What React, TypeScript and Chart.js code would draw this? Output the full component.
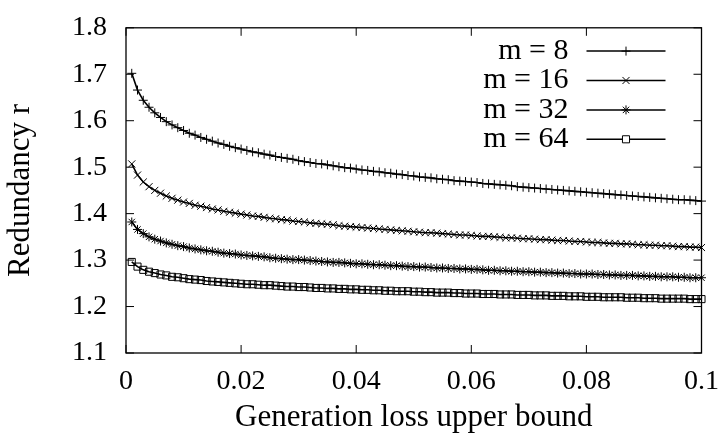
import React, { useEffect, useRef } from "react";
import { Chart, registerables } from "chart.js";
import { drawPoint } from "chart.js/helpers";

Chart.register(...registerables);

const xValues = [
  0.001, 0.002, 0.003, 0.004, 0.005, 0.006, 0.007, 0.008, 0.009, 0.01,
  0.011, 0.012, 0.013, 0.014, 0.015, 0.016, 0.017, 0.018, 0.019, 0.02,
  0.021, 0.022, 0.023, 0.024, 0.025, 0.026, 0.027, 0.028, 0.029, 0.03,
  0.031, 0.032, 0.033, 0.034, 0.035, 0.036, 0.037, 0.038, 0.039, 0.04,
  0.041, 0.042, 0.043, 0.044, 0.045, 0.046, 0.047, 0.048, 0.049, 0.05,
  0.051, 0.052, 0.053, 0.054, 0.055, 0.056, 0.057, 0.058, 0.059, 0.06,
  0.061, 0.062, 0.063, 0.064, 0.065, 0.066, 0.067, 0.068, 0.069, 0.07,
  0.071, 0.072, 0.073, 0.074, 0.075, 0.076, 0.077, 0.078, 0.079, 0.08,
  0.081, 0.082, 0.083, 0.084, 0.085, 0.086, 0.087, 0.088, 0.089, 0.09,
  0.091, 0.092, 0.093, 0.094, 0.095, 0.096, 0.097, 0.098, 0.099, 0.1,
];

const m8 = [
  1.702, 1.666, 1.644, 1.629, 1.617, 1.607, 1.598, 1.591, 1.585, 1.579,
  1.573, 1.569, 1.564, 1.56, 1.556, 1.552, 1.549, 1.545, 1.542, 1.539,
  1.536, 1.533, 1.531, 1.528, 1.526, 1.523, 1.521, 1.519, 1.517, 1.514,
  1.512, 1.51, 1.508, 1.507, 1.505, 1.503, 1.501, 1.499, 1.498, 1.496,
  1.494, 1.493, 1.491, 1.49, 1.488, 1.487, 1.485, 1.484, 1.482, 1.481,
  1.479, 1.478, 1.477, 1.475, 1.474, 1.473, 1.471, 1.47, 1.469, 1.468,
  1.467, 1.465, 1.464, 1.463, 1.462, 1.461, 1.46, 1.458, 1.457, 1.456,
  1.455, 1.454, 1.453, 1.452, 1.451, 1.45, 1.449, 1.448, 1.447, 1.446,
  1.445, 1.444, 1.443, 1.442, 1.441, 1.44, 1.439, 1.438, 1.437, 1.436,
  1.435, 1.434, 1.433, 1.432, 1.431, 1.43, 1.43, 1.429, 1.428, 1.427,
];

const m16 = [
  1.507, 1.483, 1.468, 1.458, 1.45, 1.444, 1.438, 1.433, 1.429, 1.425,
  1.422, 1.418, 1.416, 1.413, 1.41, 1.408, 1.405, 1.403, 1.401, 1.399,
  1.397, 1.395, 1.394, 1.392, 1.39, 1.389, 1.387, 1.386, 1.384, 1.383,
  1.382, 1.38, 1.379, 1.378, 1.377, 1.376, 1.374, 1.373, 1.372, 1.371,
  1.37, 1.369, 1.368, 1.367, 1.366, 1.365, 1.364, 1.363, 1.362, 1.361,
  1.36, 1.359, 1.359, 1.358, 1.357, 1.356, 1.355, 1.354, 1.354, 1.353,
  1.352, 1.351, 1.351, 1.35, 1.349, 1.348, 1.348, 1.347, 1.346, 1.346,
  1.345, 1.344, 1.344, 1.343, 1.342, 1.342, 1.341, 1.34, 1.34, 1.339,
  1.338, 1.338, 1.337, 1.336, 1.336, 1.335, 1.335, 1.334, 1.333, 1.333,
  1.332, 1.332, 1.331, 1.331, 1.33, 1.329, 1.329, 1.328, 1.328, 1.327,
];

const m32 = [
  1.382, 1.366, 1.357, 1.35, 1.345, 1.341, 1.337, 1.334, 1.331, 1.329,
  1.326, 1.324, 1.322, 1.32, 1.319, 1.317, 1.315, 1.314, 1.313, 1.311,
  1.31, 1.309, 1.308, 1.307, 1.305, 1.304, 1.303, 1.302, 1.301, 1.301,
  1.3, 1.299, 1.298, 1.297, 1.296, 1.295, 1.295, 1.294, 1.293, 1.292,
  1.292, 1.291, 1.29, 1.29, 1.289, 1.288, 1.288, 1.287, 1.286, 1.286,
  1.285, 1.285, 1.284, 1.283, 1.283, 1.282, 1.282, 1.281, 1.281, 1.28,
  1.28, 1.279, 1.278, 1.278, 1.277, 1.277, 1.276, 1.276, 1.275, 1.275,
  1.274, 1.274, 1.273, 1.273, 1.272, 1.272, 1.271, 1.271, 1.27, 1.27,
  1.27, 1.269, 1.269, 1.268, 1.268, 1.267, 1.267, 1.267, 1.266, 1.266,
  1.265, 1.265, 1.264, 1.264, 1.264, 1.263, 1.263, 1.262, 1.262, 1.262,
];

const m64 = [
  1.296, 1.286, 1.279, 1.275, 1.272, 1.269, 1.267, 1.264, 1.263, 1.261,
  1.259, 1.258, 1.257, 1.255, 1.254, 1.253, 1.252, 1.251, 1.25, 1.249,
  1.248, 1.248, 1.247, 1.246, 1.246, 1.245, 1.244, 1.243, 1.243, 1.242,
  1.242, 1.241, 1.24, 1.24, 1.239, 1.239, 1.238, 1.238, 1.237, 1.237,
  1.236, 1.236, 1.235, 1.235, 1.234, 1.234, 1.233, 1.233, 1.233, 1.232,
  1.232, 1.231, 1.231, 1.23, 1.23, 1.23, 1.229, 1.229, 1.228, 1.228,
  1.228, 1.227, 1.227, 1.227, 1.226, 1.226, 1.226, 1.225, 1.225, 1.225,
  1.224, 1.224, 1.224, 1.223, 1.223, 1.223, 1.222, 1.222, 1.222, 1.221,
  1.221, 1.221, 1.22, 1.22, 1.22, 1.22, 1.219, 1.219, 1.219, 1.218,
  1.218, 1.218, 1.217, 1.217, 1.217, 1.217, 1.217, 1.216, 1.216, 1.216,
];

const seriesLabels = ["m = 8", "m = 16", "m = 32", "m = 64"];
const seriesValues = [m8, m16, m32, m64];
const seriesMarkers = ["cross", "crossRot", "star", "rect"];
const seriesMarkerRadius = [4.5, 5, 4.5, 5];

const xTickValues = [0, 0.02, 0.04, 0.06, 0.08, 0.1];
const xTickLabels = ["0", "0.02", "0.04", "0.06", "0.08", "0.1"];
const yTickValues = [1.1, 1.2, 1.3, 1.4, 1.5, 1.6, 1.7, 1.8];
const yTickLabels = ["1.1", "1.2", "1.3", "1.4", "1.5", "1.6", "1.7", "1.8"];

const xTitle = "Generation loss upper bound";
const yTitle = "Redundancy r";

const FONT_FAMILY = "'Liberation Serif', 'Times New Roman', serif";

const frameTicksPlugin = {
  id: "frameTicks",
  beforeDatasetsDraw(chart: any) {
    const { ctx, chartArea, scales } = chart;
    const { left, right, top, bottom } = chartArea;
    const tl = 8;
    ctx.save();
    ctx.strokeStyle = "#000";
    ctx.lineWidth = 1.3;
    ctx.strokeRect(left, top, right - left, bottom - top);
    ctx.lineWidth = 1;
    ctx.beginPath();
    xTickValues.forEach((v) => {
      const px = scales.x.getPixelForValue(v);
      ctx.moveTo(px, bottom);
      ctx.lineTo(px, bottom - tl);
      ctx.moveTo(px, top);
      ctx.lineTo(px, top + tl);
    });
    yTickValues.forEach((v) => {
      const py = scales.y.getPixelForValue(v);
      ctx.moveTo(left, py);
      ctx.lineTo(left + tl, py);
      ctx.moveTo(right, py);
      ctx.lineTo(right - tl, py);
    });
    ctx.stroke();
    ctx.restore();
  },
};

const gnuplotLegendPlugin = {
  id: "gnuplotLegend",
  afterDraw(chart: any) {
    const { ctx, chartArea } = chart;
    const textRight = chartArea.right - 133;
    const lineStart = chartArea.right - 115;
    const lineEnd = chartArea.right - 36;
    const firstRow = chartArea.top + 23.3;
    const rowGap = 29.4;
    ctx.save();
    ctx.font = `30px ${FONT_FAMILY}`;
    ctx.textAlign = "right";
    ctx.textBaseline = "middle";
    chart.data.datasets.forEach((ds: any, i: number) => {
      const y = firstRow + i * rowGap;
      ctx.fillStyle = "#000";
      ctx.fillText(ds.label, textRight, y);
      ctx.strokeStyle = "#000";
      ctx.lineWidth = 1.5;
      ctx.beginPath();
      ctx.moveTo(lineStart, y);
      ctx.lineTo(lineEnd, y);
      ctx.stroke();
      ctx.lineWidth = 1;
      ctx.fillStyle = "#fff";
      drawPoint(
        ctx,
        {
          pointStyle: ds.pointStyle,
          radius: ds.pointRadius,
          rotation: 0,
          borderWidth: 1,
        },
        (lineStart + lineEnd) / 2,
        y
      );
    });
    ctx.restore();
  },
};

export default function App() {
  const canvasRef = useRef<HTMLCanvasElement | null>(null);

  useEffect(() => {
    const canvas = canvasRef.current;
    if (!canvas) return;
    const tickFont = { family: FONT_FAMILY, size: 28 };
    const titleFont = { family: FONT_FAMILY, size: 31 };
    const chart = new Chart(canvas, {
      type: "line",
      data: {
        datasets: seriesValues.map((vals, i) => ({
          label: seriesLabels[i],
          data: vals.map((y, k) => ({ x: xValues[k], y })),
          borderColor: "#000",
          borderWidth: 1.6,
          pointStyle: seriesMarkers[i] as any,
          pointRadius: seriesMarkerRadius[i],
          pointBorderColor: "#000",
          pointBackgroundColor: "rgba(0,0,0,0)",
          pointBorderWidth: 1,
          fill: false,
          tension: 0,
          clip: false as any,
        })),
      },
      options: {
        animation: false,
        responsive: false,
        maintainAspectRatio: false,
        layout: { padding: { left: 0, right: 20, top: 15, bottom: 0 } },
        plugins: {
          legend: { display: false },
          tooltip: { enabled: false },
        },
        scales: {
          x: {
            type: "linear",
            min: 0,
            max: 0.1,
            grid: { display: false },
            border: { display: false },
            afterBuildTicks: (s: any) => {
              s.ticks = xTickValues.map((v) => ({ value: v }));
            },
            afterFit: (s: any) => {
              s.height = 89;
            },
            ticks: {
              callback: (_v: any, i: number) => xTickLabels[i],
              font: tickFont,
              color: "#000",
              padding: 4,
              maxRotation: 0,
              autoSkip: false,
            },
            title: {
              display: true,
              text: xTitle,
              font: titleFont,
              color: "#000",
              padding: { top: 0, bottom: 5.6 },
            },
          },
          y: {
            type: "linear",
            min: 1.1,
            max: 1.8,
            grid: { display: false },
            border: { display: false },
            afterBuildTicks: (s: any) => {
              s.ticks = yTickValues.map((v) => ({ value: v }));
            },
            afterFit: (s: any) => {
              s.width = 126;
            },
            ticks: {
              callback: (_v: any, i: number) => yTickLabels[i],
              font: tickFont,
              color: "#000",
              padding: 11,
              autoSkip: false,
            },
            title: {
              display: true,
              text: yTitle,
              font: titleFont,
              color: "#000",
              padding: { top: 2.6, bottom: 0 },
            },
          },
        },
      },
      plugins: [frameTicksPlugin, gnuplotLegendPlugin],
    });
    return () => chart.destroy();
  }, []);

  return (
    <div
      style={{
        position: "fixed",
        left: 0,
        top: 0,
        width: 723,
        height: 442,
        background: "#fff",
      }}
    >
      <canvas
        ref={canvasRef}
        width={723}
        height={442}
        style={{ width: 723, height: 442, display: "block" }}
      />
    </div>
  );
}
